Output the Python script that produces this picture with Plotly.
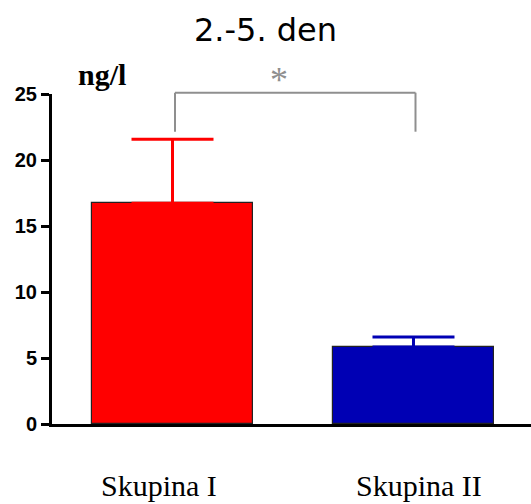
import plotly.graph_objects as go

categories = ["Skupina I", "Skupina II"]
means = [16.72, 5.83]
errors = [4.85, 0.77]
bar_colors = ["#FF0000", "#0000B4"]
yticks = [0, 5, 10, 15, 20, 25]
title_text = "2.-5. den"
unit_text = "ng/l"
sig_text = "*"

# pixel layout helpers
L, T, W, H = 52, 94, 479, 330
def px(xp):
    return (xp - L) / W
def py(yp):
    return (T + H - yp) / H

fig = go.Figure()
for i, cat in enumerate(categories):
    fig.add_trace(go.Bar(
        x=[i], y=[means[i]], width=0.668,
        marker=dict(color=bar_colors[i], line=dict(color="#222222", width=1.2)),
        error_y=dict(type="data", symmetric=False, array=[errors[i]], arrayminus=[0],
                     color=bar_colors[i], thickness=3, width=41),
        showlegend=False, hoverinfo="skip",
    ))

# significance bracket
gray = "#8f8f8f"
xl, xr, yt, yb = px(175), px(415.5), py(92.7), py(131.7)
for (a, b, c, d) in [(xl, xr, yt, yt), (xl, xl, yt, yb), (xr, xr, yt, yb)]:
    fig.add_shape(type="line", x0=a, x1=b, y0=c, y1=d, xref="paper", yref="paper",
                  line=dict(color=gray, width=2))

fig.add_annotation(x=px(279), y=py(80), xref="paper", yref="paper", text=sig_text,
                   showarrow=False, xanchor="center", yanchor="middle",
                   font=dict(family="Liberation Serif", size=36, color=gray))
fig.add_annotation(x=px(101.5), y=py(74), xref="paper", yref="paper", text="<b>" + unit_text + "</b>",
                   showarrow=False, xanchor="center", yanchor="middle",
                   font=dict(family="Liberation Serif", size=30, color="black"))

# category labels
label_x = [159, 419]
for i, cat in enumerate(categories):
    fig.add_annotation(x=px(label_x[i]), y=py(485), xref="paper", yref="paper", text=cat,
                       showarrow=False, xanchor="center", yanchor="middle",
                       font=dict(family="Liberation Serif", size=30, color="black"))

fig.update_layout(
    width=531, height=504,
    margin=dict(l=L, r=0, t=T, b=504 - T - H, autoexpand=False),
    paper_bgcolor="white", plot_bgcolor="white",
    title=dict(text=title_text, x=0.5, xanchor="center", y=1 - 30 / 504, yanchor="middle",
               font=dict(family="DejaVu Sans", size=32, color="black")),
    bargap=0,
)
fig.update_xaxes(
    range=[-0.5, 1.4876], showticklabels=False,
    showline=True, linecolor="black", linewidth=3, ticks="", showgrid=False, zeroline=False,
    automargin=False,
)
fig.update_yaxes(
    range=[0, 25], tickmode="array", tickvals=yticks,
    showline=True, linecolor="black", linewidth=3, ticks="outside", ticklen=8, tickwidth=3,
    tickcolor="black", showgrid=False, zeroline=False, automargin=False,
    tickfont=dict(family="Liberation Sans", size=20, color="black", weight="bold"),
)
fig.write_html("out.html")
